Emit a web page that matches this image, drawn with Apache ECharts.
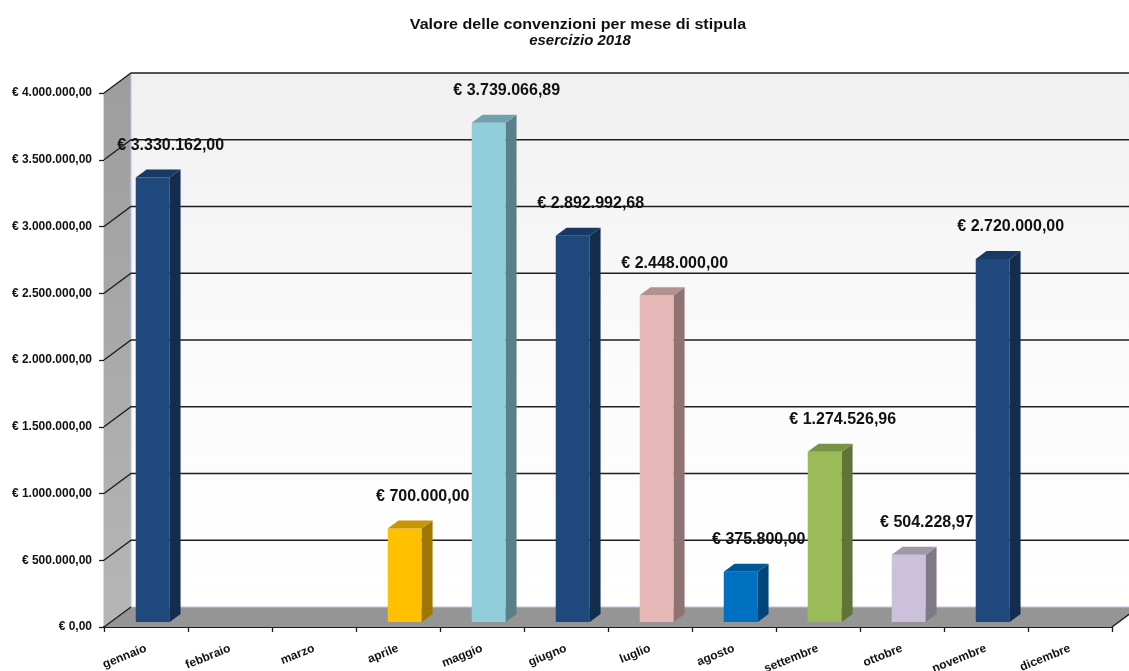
<!DOCTYPE html>
<html>
<head>
<meta charset="utf-8">
<script src="https://cdn.jsdelivr.net/npm/echarts@6/dist/echarts.min.js"></script>
<style>
  html, body { margin: 0; padding: 0; background: #ffffff; }
  #chart { width: 1129px; height: 671px; }
</style>
</head>
<body>
<div id="chart"></div>
<script>
// Months of the contract year
const months = ['gennaio', 'febbraio', 'marzo', 'aprile', 'maggio', 'giugno',
                'luglio', 'agosto', 'settembre', 'ottobre', 'novembre', 'dicembre'];

// Contract value (EUR) by month of signing
const values = [3330162.00, 0, 0, 700000.00, 3739066.89, 2892992.68,
                2448000.00, 375800.00, 1274526.96, 504228.97, 2720000.00, 0];

// Value-axis ticks
const yTicks = [0, 500000, 1000000, 1500000, 2000000, 2500000, 3000000, 3500000, 4000000];

// Face colour of each month's column
const barColors = ['#1F497D', '#1F497D', '#1F497D', '#FFC000', '#92CDDC', '#1F497D',
                   '#E6B9B8', '#0070C0', '#9BBB59', '#CCC1DA', '#1F497D', '#1F497D'];

const FONT = "Arial, 'Liberation Sans', sans-serif";

// Oblique projection of the depth axis (pixels for the full room depth)
const DX = 27, DY = -20;
// Columns sit between these fractions of the room depth
const BAR_FRONT = 0.25, BAR_DEPTH = 0.4;

function shade(hex, f) {
  const n = parseInt(hex.slice(1), 16);
  const r = Math.round(((n >> 16) & 255) * f);
  const g = Math.round(((n >> 8) & 255) * f);
  const b = Math.round((n & 255) * f);
  return 'rgb(' + r + ',' + g + ',' + b + ')';
}

function euro(v) {
  const parts = Number(v).toFixed(2).split('.');
  return '€ ' + parts[0].replace(/\B(?=(\d{3})+(?!\d))/g, '.') + ',' + parts[1];
}

// Walls, floor and gridlines of the 3D room
function renderRoom(params, api) {
  const cs = params.coordSys;
  const x0 = cs.x, x1 = cs.x + cs.width, yt = cs.y, yb = cs.y + cs.height;
  const children = [];
  children.push({
    type: 'polygon',
    shape: { points: [[x0 + DX, yt + DY], [x1 + DX, yt + DY], [x1 + DX, yb + DY], [x0 + DX, yb + DY]] },
    style: { fill: { type: 'linear', x: 0, y: 0, x2: 0, y2: 1,
      colorStops: [{ offset: 0, color: '#f0f0f0' }, { offset: 0.55, color: '#fbfbfb' }, { offset: 1, color: '#ffffff' }] } }
  });
  children.push({
    type: 'polygon',
    shape: { points: [[x0, yt], [x0 + DX, yt + DY], [x0 + DX, yb + DY], [x0, yb]] },
    style: { fill: { type: 'linear', x: 0, y: 0, x2: 0, y2: 1,
      colorStops: [{ offset: 0, color: '#9d9d9d' }, { offset: 1, color: '#b6b6b6' }] } }
  });
  children.push({
    type: 'polygon',
    shape: { points: [[x0, yb], [x0 + DX, yb + DY], [x1 + DX, yb + DY], [x1, yb]] },
    style: { fill: '#959595' }
  });
  // light edges of the back wall
  children.push({
    type: 'polyline',
    shape: { points: [[x0 + DX, yt + DY], [x0 + DX, yb + DY], [x1 + DX, yb + DY]] },
    style: { stroke: '#c4c4e4', lineWidth: 1.2, fill: null }
  });
  yTicks.forEach(function (v) {
    const y = api.coord([0, v])[1];
    const pts = v === 0 ? [[x0, y], [x0 + DX, y + DY]] : [[x0, y], [x0 + DX, y + DY], [x1 + DX, y + DY]];
    children.push({
      type: 'polyline',
      shape: { points: pts },
      style: { stroke: '#1e1e1e', lineWidth: 1.3, fill: null }
    });
  });
  // right edge of the floor
  children.push({
    type: 'polyline',
    shape: { points: [[x1, yb], [x1 + DX, yb + DY]] },
    style: { stroke: '#1e1e1e', lineWidth: 1.5, fill: null }
  });
  return { type: 'group', children: children };
}

// One 3D column plus its value label
function renderBar(params, api) {
  const idx = api.value(0);
  const val = api.value(1);
  if (!val) return { type: 'group', children: [] };
  const base = api.coord([idx, 0]);
  const top = api.coord([idx, val]);
  const band = api.size([1, 0])[0];
  const w = band * 0.405;
  const fx = DX * BAR_FRONT, fy = DY * BAR_FRONT;
  const sx = DX * BAR_DEPTH, sy = DY * BAR_DEPTH;
  const xl = base[0] - w / 2 + fx, xr = xl + w;
  const yT = top[1] + fy, yB = base[1] + fy;
  const c = barColors[idx];
  return {
    type: 'group',
    children: [
      { type: 'rect', shape: { x: xl, y: yT, width: w, height: yB - yT }, style: { fill: c } },
      { type: 'polygon', shape: { points: [[xr, yT], [xr + sx, yT + sy], [xr + sx, yB + sy], [xr, yB]] },
        style: { fill: shade(c, 0.62) } },
      { type: 'polygon', shape: { points: [[xl, yT], [xl + sx, yT + sy], [xr + sx, yT + sy], [xr, yT]] },
        style: { fill: shade(c, 0.78) } },
      { type: 'text', z2: 10,
        style: { text: euro(val), x: (xl + xr) / 2 + 18, y: yT - 32, align: 'center', verticalAlign: 'middle',
                 font: 'bold 16px ' + FONT, fill: '#111111' } }
    ]
  };
}

const chart = echarts.init(document.getElementById('chart'), null, { renderer: 'canvas' });
chart.setOption({
  animation: false,
  backgroundColor: '#ffffff',
  graphic: [
    { type: 'text', x: 578, y: 25, scaleX: 1.07,
      style: { text: 'Valore delle convenzioni per mese di stipula', align: 'center', verticalAlign: 'middle',
               font: 'bold 15px ' + FONT, fill: '#111111' } },
    { type: 'text', x: 580, y: 41,
      style: { text: 'esercizio 2018', align: 'center', verticalAlign: 'middle',
               font: 'italic bold 15px ' + FONT, fill: '#111111' } }
  ],
  grid: { left: 104, right: 17, top: 93, bottom: 44, containLabel: false, outerBoundsMode: 'none' },
  xAxis: {
    type: 'category',
    data: months,
    axisLine: { show: true, lineStyle: { color: '#1e1e1e', width: 2 } },
    axisTick: { show: true, length: 5, lineStyle: { color: '#1e1e1e', width: 1.3 } },
    axisLabel: { rotate: 22, margin: 21, fontFamily: FONT, fontWeight: 'bold', fontSize: 12, color: '#111111' },
    splitLine: { show: false }
  },
  yAxis: {
    type: 'value',
    min: 0, max: 4000000, interval: 500000,
    axisLine: { show: true, lineStyle: { color: '#1e1e1e', width: 1.3 } },
    axisTick: { show: true, length: 5, lineStyle: { color: '#1e1e1e', width: 1.3 } },
    axisLabel: { formatter: euro, margin: 12, padding: [4, 0, 0, 0], fontFamily: FONT, fontWeight: 'bold',
                 fontSize: 12, color: '#111111' },
    splitLine: { show: false }
  },
  series: [
    { type: 'custom', name: 'room', renderItem: renderRoom, data: [[0, 0]], clip: false, z: 1, silent: true },
    { type: 'custom', name: 'valore', renderItem: renderBar, clip: false, z: 3,
      data: values.map(function (v, i) { return [i, v]; }) }
  ]
});
</script>
</body>
</html>
